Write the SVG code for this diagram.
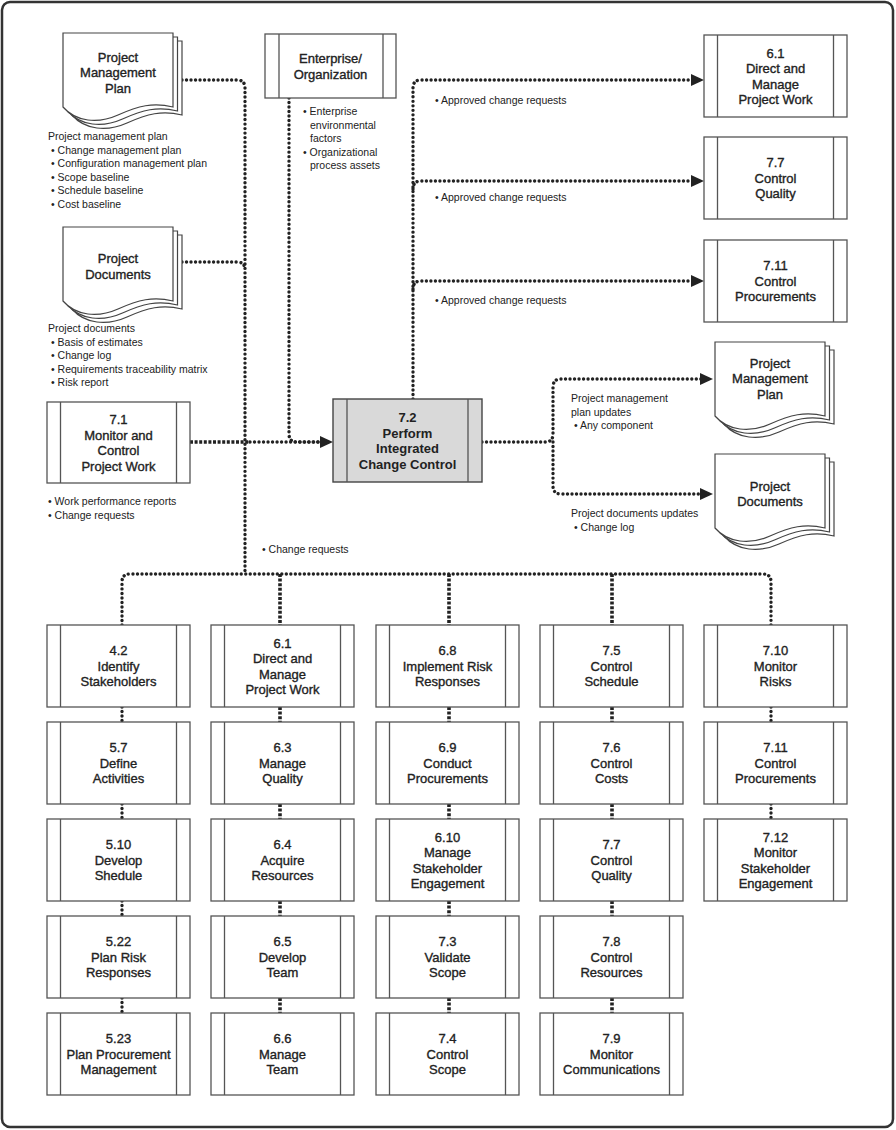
<svg xmlns="http://www.w3.org/2000/svg" xmlns:xlink="http://www.w3.org/1999/xlink" width="896" height="1130" viewBox="0 0 896 1130">
<style>
.frame{fill:#fff;stroke:#333;stroke-width:2.5}
.box{fill:#fff;stroke:#555;stroke-width:1.3}
.hl{fill:#d9d9d9;stroke:#444;stroke-width:1.4}
.bar{stroke:#555;stroke-width:1.3;fill:none}
.doc{fill:#fff;stroke:#444;stroke-width:1.2}
.dot{fill:none;stroke:#222;stroke-width:3.4;stroke-linecap:round;stroke-dasharray:0.01 4.5}
.sq{fill:none;stroke:#222;stroke-width:3.6;stroke-dasharray:3 1.6}
.ah{fill:#222}
.t{font-family:"Liberation Sans",Arial,sans-serif;font-size:13px;fill:#222;stroke:#222;stroke-width:0.35;text-anchor:middle}
.tb{font-family:"Liberation Sans",Arial,sans-serif;font-size:13px;font-weight:bold;fill:#222;text-anchor:middle}
.s{font-family:"Liberation Sans",Arial,sans-serif;font-size:10.5px;fill:#222}
</style>
<defs>
<g id="docshape">
<path class="doc" d="M9,8 H119 V82 C99,77 84,81 64,90 C44,99 22,97 9,82 Z"/>
<path class="doc" d="M4.5,4 H114.5 V78 C94.5,73 79.5,77 59.5,86 C39.5,95 17.5,93 4.5,78 Z"/>
<path class="doc" d="M0,0 H110 V74 C90,69 75,73 55,82 C35,91 13,89 0,74 Z"/>
</g>
</defs>
<rect class="frame" x="2" y="2" width="891" height="1125" rx="8"/>

<g id="connectors">
<path class="dot" d="M182,80 H237 Q245,80 245,88 V574"/>
<path class="dot" d="M182,262 H237 Q245,262 245,270"/>
<path class="sq" d="M190,442 H250"/>
<path class="dot" d="M250,442 H321"/>
<path class="dot" d="M289,98 V434 Q289,442 297,442 H321"/>
<polygon class="ah" points="320,436 333,442 320,448"/>
<path class="dot" d="M413,399 V88 Q413,80 421,80 H692"/>
<polygon class="ah" points="691,74 704,80 691,86"/>
<path class="dot" d="M413,189 Q413,181 421,181 H692"/>
<polygon class="ah" points="691,175 704,181 691,187"/>
<path class="dot" d="M413,289 Q413,281 421,281 H692"/>
<polygon class="ah" points="691,275 704,281 691,287"/>
<path class="dot" d="M482,442 H545 Q553,442 553,434 V387 Q553,379 561,379 H701"/>
<polygon class="ah" points="700,373 713,379 700,385"/>
<path class="dot" d="M553,442 V486 Q553,494 561,494 H701"/>
<polygon class="ah" points="700,488 713,494 700,500"/>
<path class="dot" d="M122,625 V582 Q122,574 130,574 H763 Q771,574 771,582 V625"/>
<path class="sq" d="M280,574 V625 M449,574 V625 M612,574 V625"/>
<path class="dot" d="M122,707 V722 M122,804 V819 M122,901 V916 M122,998 V1013"/>
<path class="sq" d="M280,707 V722 M280,804 V819 M280,901 V916 M280,998 V1013"/>
<path class="sq" d="M449,707 V722 M449,804 V819 M449,901 V916 M449,998 V1013"/>
<path class="sq" d="M612,707 V722 M612,804 V819 M612,901 V916 M612,998 V1013"/>
<path class="dot" d="M771,707 V722 M771,804 V819"/>
</g>

<g id="pmp-in">
<use xlink:href="#docshape" transform="translate(63,33)"/>
<text class="t" x="118" y="61.5">Project</text>
<text class="t" x="118" y="77">Management</text>
<text class="t" x="118" y="92.5">Plan</text>
</g>
<g id="pmp-in-label">
<text class="s" x="48" y="140">Project management plan</text>
<text class="s" x="51" y="153.5">• Change management plan</text>
<text class="s" x="51" y="167">• Configuration management plan</text>
<text class="s" x="51" y="180.5">• Scope baseline</text>
<text class="s" x="51" y="194">• Schedule baseline</text>
<text class="s" x="51" y="207.5">• Cost baseline</text>
</g>

<g id="pd-in">
<use xlink:href="#docshape" transform="translate(63,227)"/>
<text class="t" x="118" y="263">Project</text>
<text class="t" x="118" y="278.5">Documents</text>
</g>
<g id="pd-in-label">
<text class="s" x="48" y="332">Project documents</text>
<text class="s" x="51" y="345.5">• Basis of estimates</text>
<text class="s" x="51" y="359">• Change log</text>
<text class="s" x="51" y="372.5">• Requirements traceability matrix</text>
<text class="s" x="51" y="386">• Risk report</text>
</g>

<g id="eo">
<rect class="box" x="265" y="34" width="131" height="64"/>
<path class="bar" d="M279,34 V98 M383,34 V98"/>
<text class="t" x="330.5" y="63">Enterprise/</text>
<text class="t" x="330.5" y="79">Organization</text>
</g>
<g id="eo-label">
<text class="s" x="303" y="115">• Enterprise</text>
<text class="s" x="310" y="128.5">environmental</text>
<text class="s" x="310" y="142">factors</text>
<text class="s" x="303" y="155.5">• Organizational</text>
<text class="s" x="310" y="169">process assets</text>
</g>

<g id="p71">
<rect class="box" x="47" y="402" width="143" height="81"/>
<path class="bar" d="M60.5,402 V483 M176.5,402 V483"/>
<text class="t" x="118.5" y="424">7.1</text>
<text class="t" x="118.5" y="439.5">Monitor and</text>
<text class="t" x="118.5" y="455">Control</text>
<text class="t" x="118.5" y="470.5">Project Work</text>
</g>
<g id="p71-label">
<text class="s" x="48" y="505">• Work performance reports</text>
<text class="s" x="48" y="518.5">• Change requests</text>
</g>
<text class="s" x="262" y="553">• Change requests</text>

<g id="p72">
<rect class="hl" x="333" y="399" width="149" height="83"/>
<path class="bar" d="M347,399 V482 M468,399 V482"/>
<text class="tb" x="407.5" y="422">7.2</text>
<text class="tb" x="407.5" y="437.5">Perform</text>
<text class="tb" x="407.5" y="453">Integrated</text>
<text class="tb" x="407.5" y="468.5">Change Control</text>
</g>

<g id="acr-labels">
<text class="s" x="435" y="104">• Approved change requests</text>
<text class="s" x="435" y="201">• Approved change requests</text>
<text class="s" x="435" y="304">• Approved change requests</text>
</g>

<g id="out61">
<rect class="box" x="704" y="35" width="143" height="82"/>
<path class="bar" d="M717.5,35 V117 M833.5,35 V117"/>
<text class="t" x="775.5" y="57.5">6.1</text>
<text class="t" x="775.5" y="73">Direct and</text>
<text class="t" x="775.5" y="88.5">Manage</text>
<text class="t" x="775.5" y="104">Project Work</text>
</g>
<g id="out77">
<rect class="box" x="704" y="137" width="143" height="82"/>
<path class="bar" d="M717.5,137 V219 M833.5,137 V219"/>
<text class="t" x="775.5" y="167.2">7.7</text>
<text class="t" x="775.5" y="182.7">Control</text>
<text class="t" x="775.5" y="198.2">Quality</text>
</g>
<g id="out711">
<rect class="box" x="704" y="240" width="143" height="82"/>
<path class="bar" d="M717.5,240 V322 M833.5,240 V322"/>
<text class="t" x="775.5" y="270.2">7.11</text>
<text class="t" x="775.5" y="285.7">Control</text>
<text class="t" x="775.5" y="301.2">Procurements</text>
</g>

<g id="pmp-out">
<use xlink:href="#docshape" transform="translate(715,342)"/>
<text class="t" x="770" y="367.5">Project</text>
<text class="t" x="770" y="383">Management</text>
<text class="t" x="770" y="398.5">Plan</text>
</g>
<g id="pd-out">
<use xlink:href="#docshape" transform="translate(715,454)"/>
<text class="t" x="770" y="490.5">Project</text>
<text class="t" x="770" y="506">Documents</text>
</g>
<g id="out-labels">
<text class="s" x="571" y="402">Project management</text>
<text class="s" x="571" y="415.5">plan updates</text>
<text class="s" x="574" y="429">• Any component</text>
<text class="s" x="571" y="517">Project documents updates</text>
<text class="s" x="574" y="530.5">• Change log</text>
</g>

<!-- Grid column 1 -->
<g id="g42"><rect class="box" x="47" y="625" width="143" height="82"/><path class="bar" d="M60.5,625 V707 M176.5,625 V707"/>
<text class="t" x="118.5" y="655.2">4.2</text><text class="t" x="118.5" y="670.7">Identify</text><text class="t" x="118.5" y="686.2">Stakeholders</text></g>
<g id="g57"><rect class="box" x="47" y="722" width="143" height="82"/><path class="bar" d="M60.5,722 V804 M176.5,722 V804"/>
<text class="t" x="118.5" y="752.2">5.7</text><text class="t" x="118.5" y="767.7">Define</text><text class="t" x="118.5" y="783.2">Activities</text></g>
<g id="g510"><rect class="box" x="47" y="819" width="143" height="82"/><path class="bar" d="M60.5,819 V901 M176.5,819 V901"/>
<text class="t" x="118.5" y="849.2">5.10</text><text class="t" x="118.5" y="864.7">Develop</text><text class="t" x="118.5" y="880.2">Shedule</text></g>
<g id="g522"><rect class="box" x="47" y="916" width="143" height="82"/><path class="bar" d="M60.5,916 V998 M176.5,916 V998"/>
<text class="t" x="118.5" y="946.2">5.22</text><text class="t" x="118.5" y="961.7">Plan Risk</text><text class="t" x="118.5" y="977.2">Responses</text></g>
<g id="g523"><rect class="box" x="47" y="1013" width="143" height="82"/><path class="bar" d="M60.5,1013 V1095 M176.5,1013 V1095"/>
<text class="t" x="118.5" y="1043.2">5.23</text><text class="t" x="118.5" y="1058.7">Plan Procurement</text><text class="t" x="118.5" y="1074.2">Management</text></g>

<!-- Grid column 2 -->
<g id="g61"><rect class="box" x="211" y="625" width="143" height="82"/><path class="bar" d="M224.5,625 V707 M340.5,625 V707"/>
<text class="t" x="282.5" y="647.5">6.1</text><text class="t" x="282.5" y="663">Direct and</text><text class="t" x="282.5" y="678.5">Manage</text><text class="t" x="282.5" y="694">Project Work</text></g>
<g id="g63"><rect class="box" x="211" y="722" width="143" height="82"/><path class="bar" d="M224.5,722 V804 M340.5,722 V804"/>
<text class="t" x="282.5" y="752.2">6.3</text><text class="t" x="282.5" y="767.7">Manage</text><text class="t" x="282.5" y="783.2">Quality</text></g>
<g id="g64"><rect class="box" x="211" y="819" width="143" height="82"/><path class="bar" d="M224.5,819 V901 M340.5,819 V901"/>
<text class="t" x="282.5" y="849.2">6.4</text><text class="t" x="282.5" y="864.7">Acquire</text><text class="t" x="282.5" y="880.2">Resources</text></g>
<g id="g65"><rect class="box" x="211" y="916" width="143" height="82"/><path class="bar" d="M224.5,916 V998 M340.5,916 V998"/>
<text class="t" x="282.5" y="946.2">6.5</text><text class="t" x="282.5" y="961.7">Develop</text><text class="t" x="282.5" y="977.2">Team</text></g>
<g id="g66"><rect class="box" x="211" y="1013" width="143" height="82"/><path class="bar" d="M224.5,1013 V1095 M340.5,1013 V1095"/>
<text class="t" x="282.5" y="1043.2">6.6</text><text class="t" x="282.5" y="1058.7">Manage</text><text class="t" x="282.5" y="1074.2">Team</text></g>

<!-- Grid column 3 -->
<g id="g68"><rect class="box" x="376" y="625" width="143" height="82"/><path class="bar" d="M389.5,625 V707 M505.5,625 V707"/>
<text class="t" x="447.5" y="655.2">6.8</text><text class="t" x="447.5" y="670.7">Implement Risk</text><text class="t" x="447.5" y="686.2">Responses</text></g>
<g id="g69"><rect class="box" x="376" y="722" width="143" height="82"/><path class="bar" d="M389.5,722 V804 M505.5,722 V804"/>
<text class="t" x="447.5" y="752.2">6.9</text><text class="t" x="447.5" y="767.7">Conduct</text><text class="t" x="447.5" y="783.2">Procurements</text></g>
<g id="g610"><rect class="box" x="376" y="819" width="143" height="82"/><path class="bar" d="M389.5,819 V901 M505.5,819 V901"/>
<text class="t" x="447.5" y="841.5">6.10</text><text class="t" x="447.5" y="857">Manage</text><text class="t" x="447.5" y="872.5">Stakeholder</text><text class="t" x="447.5" y="888">Engagement</text></g>
<g id="g73"><rect class="box" x="376" y="916" width="143" height="82"/><path class="bar" d="M389.5,916 V998 M505.5,916 V998"/>
<text class="t" x="447.5" y="946.2">7.3</text><text class="t" x="447.5" y="961.7">Validate</text><text class="t" x="447.5" y="977.2">Scope</text></g>
<g id="g74"><rect class="box" x="376" y="1013" width="143" height="82"/><path class="bar" d="M389.5,1013 V1095 M505.5,1013 V1095"/>
<text class="t" x="447.5" y="1043.2">7.4</text><text class="t" x="447.5" y="1058.7">Control</text><text class="t" x="447.5" y="1074.2">Scope</text></g>

<!-- Grid column 4 -->
<g id="g75"><rect class="box" x="540" y="625" width="143" height="82"/><path class="bar" d="M553.5,625 V707 M669.5,625 V707"/>
<text class="t" x="611.5" y="655.2">7.5</text><text class="t" x="611.5" y="670.7">Control</text><text class="t" x="611.5" y="686.2">Schedule</text></g>
<g id="g76"><rect class="box" x="540" y="722" width="143" height="82"/><path class="bar" d="M553.5,722 V804 M669.5,722 V804"/>
<text class="t" x="611.5" y="752.2">7.6</text><text class="t" x="611.5" y="767.7">Control</text><text class="t" x="611.5" y="783.2">Costs</text></g>
<g id="g77"><rect class="box" x="540" y="819" width="143" height="82"/><path class="bar" d="M553.5,819 V901 M669.5,819 V901"/>
<text class="t" x="611.5" y="849.2">7.7</text><text class="t" x="611.5" y="864.7">Control</text><text class="t" x="611.5" y="880.2">Quality</text></g>
<g id="g78"><rect class="box" x="540" y="916" width="143" height="82"/><path class="bar" d="M553.5,916 V998 M669.5,916 V998"/>
<text class="t" x="611.5" y="946.2">7.8</text><text class="t" x="611.5" y="961.7">Control</text><text class="t" x="611.5" y="977.2">Resources</text></g>
<g id="g79"><rect class="box" x="540" y="1013" width="143" height="82"/><path class="bar" d="M553.5,1013 V1095 M669.5,1013 V1095"/>
<text class="t" x="611.5" y="1043.2">7.9</text><text class="t" x="611.5" y="1058.7">Monitor</text><text class="t" x="611.5" y="1074.2">Communications</text></g>

<!-- Grid column 5 -->
<g id="g710"><rect class="box" x="704" y="625" width="143" height="82"/><path class="bar" d="M717.5,625 V707 M833.5,625 V707"/>
<text class="t" x="775.5" y="655.2">7.10</text><text class="t" x="775.5" y="670.7">Monitor</text><text class="t" x="775.5" y="686.2">Risks</text></g>
<g id="g711"><rect class="box" x="704" y="722" width="143" height="82"/><path class="bar" d="M717.5,722 V804 M833.5,722 V804"/>
<text class="t" x="775.5" y="752.2">7.11</text><text class="t" x="775.5" y="767.7">Control</text><text class="t" x="775.5" y="783.2">Procurements</text></g>
<g id="g712"><rect class="box" x="704" y="819" width="143" height="82"/><path class="bar" d="M717.5,819 V901 M833.5,819 V901"/>
<text class="t" x="775.5" y="841.5">7.12</text><text class="t" x="775.5" y="857">Monitor</text><text class="t" x="775.5" y="872.5">Stakeholder</text><text class="t" x="775.5" y="888">Engagement</text></g>
</svg>
